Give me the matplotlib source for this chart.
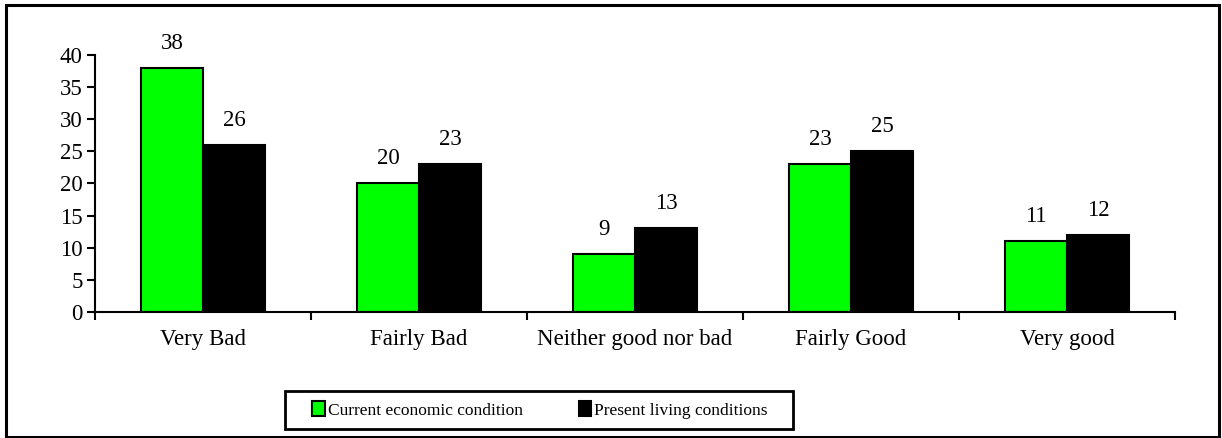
import matplotlib
matplotlib.use("Agg")
import matplotlib.pyplot as plt
import numpy as np
from matplotlib.patches import Rectangle

categories = ["Very Bad", "Fairly Bad", "Neither good nor bad", "Fairly Good", "Very good"]
current_economic = [38, 20, 9, 23, 11]
present_living = [26, 23, 13, 25, 12]
series_names = ["Current economic condition", "Present living conditions"]

plt.rcParams['font.family'] = ['Liberation Serif', 'DejaVu Serif']
FS = 16.5
W, H = 1222, 438
fig = plt.figure(figsize=(W/100, H/100), dpi=100)

# outer frame
fig.patches.append(Rectangle((6/W, 1-437/H), (1219-6)/W, (437-5)/H, transform=fig.transFigure,
                             fill=False, edgecolor='black', linewidth=2.2))
# legend frame
fig.patches.append(Rectangle((285/W, 1-429/H), (793-285)/W, (429-391)/H, transform=fig.transFigure,
                             fill=False, edgecolor='black', linewidth=2))

ax = fig.add_axes([95/W, 1-312/H, (1175-95)/W, (312-55)/H])
x = np.arange(len(categories))
bw = 0.287
b1 = ax.bar(x - bw/2, current_economic, bw, color='#00ff00', edgecolor='black', linewidth=1.5, label=series_names[0])
b2 = ax.bar(x + bw/2, present_living, bw, color='black', edgecolor='black', linewidth=1.5, label=series_names[1])
for bars, vals in ((b1, current_economic), (b2, present_living)):
    for r, v in zip(bars, vals):
        ax.text(r.get_x() + r.get_width()/2, v + 2.2, str(v), ha='center', va='bottom', fontsize=FS)

ax.set_xlim(-0.5, len(categories) - 0.5)
ax.set_ylim(0, 40)
ax.set_yticks(range(0, 41, 5))
ax.set_xticks(np.arange(-0.5, len(categories), 1.0))
ax.set_xticklabels([])
ax.set_xticks(x, minor=True)
ax.set_xticklabels(categories, minor=True)
ax.tick_params(axis='x', which='minor', length=0, pad=12, labelsize=FS)
ax.tick_params(axis='x', which='major', direction='out', length=6, width=1.5)
ax.tick_params(axis='y', direction='out', length=6, width=1.5, labelsize=FS, pad=3)
for s in ('top', 'right'):
    ax.spines[s].set_visible(False)
for s in ('left', 'bottom'):
    ax.spines[s].set_linewidth(1.5)

leg = fig.legend(handles=[b1, b2], loc='center', ncol=2,
                 bbox_to_anchor=(540/W, 1-410/H), frameon=False,
                 fontsize=12.5, handlelength=0.7, handleheight=0.9,
                 handletextpad=0.2, columnspacing=3.2, borderpad=0.3)

fig.savefig("out.png", dpi=100)
